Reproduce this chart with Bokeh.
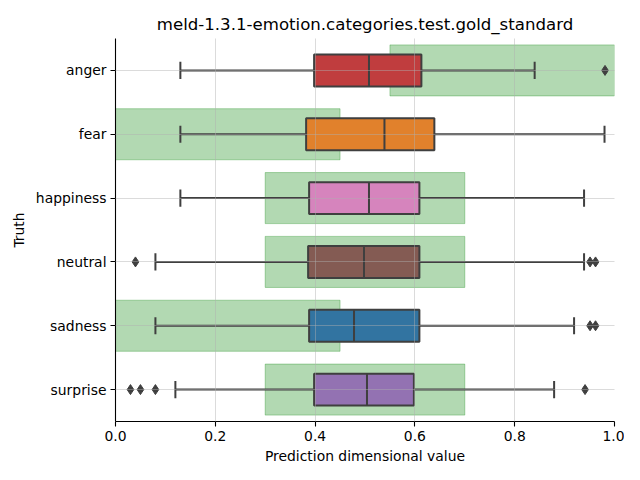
from bokeh.plotting import figure
from bokeh.models import ColumnDataSource, Range1d, FactorRange, FixedTicker
from bokeh.embed import file_html
from bokeh.resources import INLINE

categories = ["anger", "fear", "happiness", "neutral", "sadness", "surprise"]
q1 = [0.398, 0.382, 0.388, 0.386, 0.388, 0.398]
median = [0.508, 0.539, 0.508, 0.498, 0.478, 0.504]
q3 = [0.613, 0.639, 0.609, 0.609, 0.609, 0.598]
whisk_lo = [0.130, 0.130, 0.130, 0.080, 0.080, 0.120]
whisk_hi = [0.840, 0.980, 0.939, 0.939, 0.919, 0.879]
outlier_cat = ["anger", "neutral", "neutral", "neutral", "sadness", "sadness",
               "surprise", "surprise", "surprise", "surprise"]
outlier_val = [0.981, 0.040, 0.951, 0.962, 0.951, 0.962, 0.030, 0.050, 0.080, 0.941]
gold_lo = [0.55, 0.0, 0.3, 0.3, 0.0, 0.3]
gold_hi = [1.0, 0.45, 0.7, 0.7, 0.45, 0.7]
colors = ["#c03d3e", "#e1812c", "#d684bd", "#845b53", "#3274a1", "#9372b2"]

FONT = "DejaVu Sans"
EDGE = "#3f3f3f"
LW = 2.0

p = figure(
    y_range=FactorRange(factors=list(reversed(categories)), range_padding=0),
    x_range=Range1d(0, 1),
    frame_width=499, frame_height=383,
    min_border_left=115, min_border_right=10, min_border_top=38, min_border_bottom=43,
    output_backend="svg", toolbar_location=None,
    title="meld-1.3.1-emotion.categories.test.gold_standard",
)
p.background_fill_color = "white"
p.border_fill_color = "white"
p.outline_line_color = None

p.title.align = "center"
p.title.text_font = FONT
p.title.text_font_size = "16.6px"
p.title.text_font_style = "normal"
p.title.text_color = "black"

src = ColumnDataSource(dict(
    cat=categories, q1=q1, med=median, q3=q3, lo=whisk_lo, hi=whisk_hi,
    glo=gold_lo, ghi=gold_hi, color=colors,
    cap_a=[(c, -0.135) for c in categories],
    cap_b=[(c, 0.135) for c in categories],
    box_a=[(c, -0.25) for c in categories],
    box_b=[(c, 0.25) for c in categories],
))

# gold standard spans
p.hbar(y="cat", left="glo", right="ghi", height=0.8, source=src,
       fill_color="green", fill_alpha=0.3, line_color="green", line_alpha=0.3, line_width=1)

# whiskers
p.segment(x0="lo", y0="cat", x1="q1", y1="cat", source=src, line_color=EDGE, line_width=LW)
p.segment(x0="q3", y0="cat", x1="hi", y1="cat", source=src, line_color=EDGE, line_width=LW)
# caps
p.segment(x0="lo", y0="cap_a", x1="lo", y1="cap_b", source=src, line_color=EDGE, line_width=LW)
p.segment(x0="hi", y0="cap_a", x1="hi", y1="cap_b", source=src, line_color=EDGE, line_width=LW)
# boxes
p.hbar(y="cat", left="q1", right="q3", height=0.5, source=src,
       fill_color="color", line_color=EDGE, line_width=LW)
# medians
p.segment(x0="med", y0="box_a", x1="med", y1="box_b", source=src, line_color=EDGE, line_width=LW)

# outliers
osrc = ColumnDataSource(dict(cat=outlier_cat, val=outlier_val))
p.scatter(x="val", y="cat", source=osrc, marker="diamond", size=10,
          fill_color=EDGE, line_color=EDGE)

# grid
for g in (p.xgrid, p.ygrid):
    g.grid_line_color = "#b0b0b0"
    g.grid_line_alpha = 0.45
    g.grid_line_width = 1.0
    g.level = "overlay"

p.xaxis.ticker = FixedTicker(ticks=[0.0, 0.2, 0.4, 0.6, 0.8, 1.0])
p.xaxis.major_label_overrides = {0.0: "0.0", 0.2: "0.2", 0.4: "0.4", 0.6: "0.6", 0.8: "0.8", 1.0: "1.0"}
p.xaxis.minor_tick_line_color = None
p.xaxis.axis_label = "Prediction dimensional value"
p.yaxis.axis_label = "Truth"

for ax in (p.xaxis, p.yaxis):
    ax.axis_line_color = "black"
    ax.axis_line_width = 1.1
    ax.major_tick_line_color = "black"
    ax.major_tick_line_width = 1.1
    ax.major_tick_out = 5
    ax.major_tick_in = 0
    ax.major_label_text_font = FONT
    ax.major_label_text_font_size = "13.9px"
    ax.major_label_text_color = "black"
    ax.axis_label_text_font = FONT
    ax.axis_label_text_font_size = "13.9px"
    ax.axis_label_text_font_style = "normal"
    ax.axis_label_text_color = "black"
    ax.major_label_standoff = 4
p.xaxis.axis_label_standoff = 4
p.yaxis.axis_label_standoff = 6

open("out.html", "w").write(file_html(p, INLINE))
